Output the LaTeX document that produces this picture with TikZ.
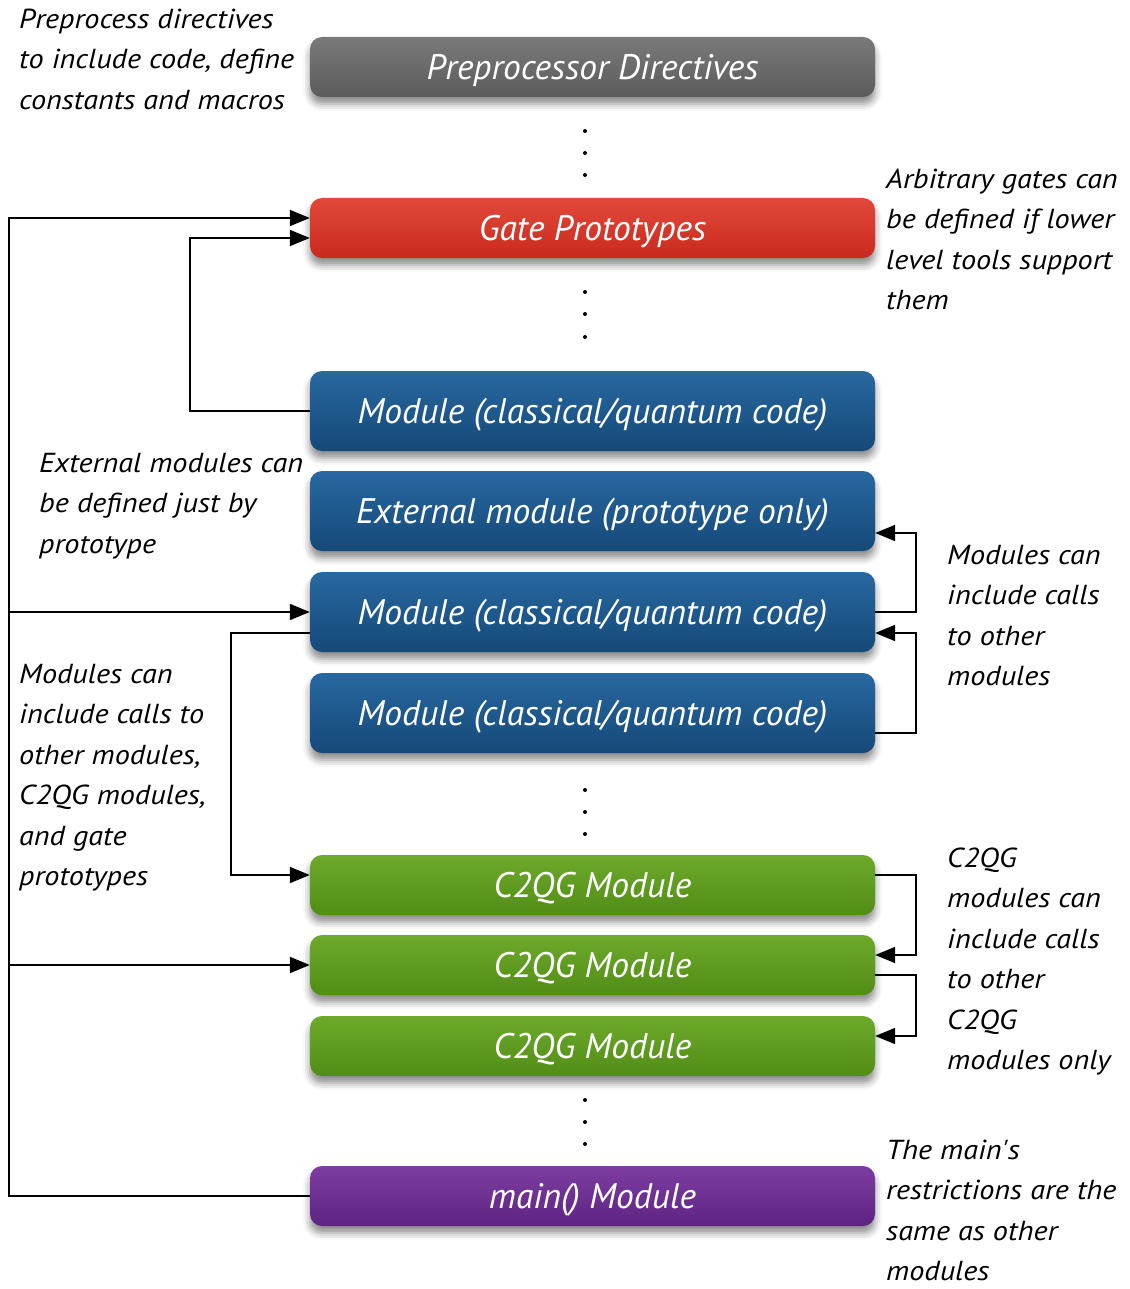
\documentclass[tikz,border=0pt]{standalone}
\usepackage{fontspec}
\setmainfont{PT Sans}
\newfontfamily\sidefont[FakeStretch=1.1]{PT Sans}
\newfontfamily\boxfont{PT Sans}
\usetikzlibrary{shadows.blur,arrows.meta,calc}
\definecolor{gtop}{HTML}{7A7A7A}\definecolor{gbot}{HTML}{5C5C5C}
\definecolor{rtop}{HTML}{E2493A}\definecolor{rbot}{HTML}{C92A1E}
\definecolor{btop}{HTML}{2868A0}\definecolor{bbot}{HTML}{154979}
\definecolor{ctop}{HTML}{6DAA2B}\definecolor{cbot}{HTML}{528C16}
\definecolor{ptop}{HTML}{7D3DA0}\definecolor{pbot}{HTML}{5E2482}
\begin{document}
\begin{tikzpicture}[x=1pt,y=-1pt,
  box/.style={rounded corners=12pt, minimum width=565pt, inner sep=0pt,
    text=white, font={\boxfont\itshape\fontsize{35.5}{40}\selectfont},
    text height=24.5pt, text depth=0pt,
    blur shadow={shadow xshift=0pt, shadow yshift=-7pt, shadow blur radius=7pt, shadow opacity=45}},
  tall/.style={box, minimum height=80pt},
  short/.style={box, minimum height=60pt},
  gray/.style={top color=gtop, bottom color=gbot},
  red/.style={top color=rtop, bottom color=rbot},
  blue/.style={top color=btop, bottom color=bbot},
  green/.style={top color=ctop, bottom color=cbot},
  purple/.style={top color=ptop, bottom color=pbot},
  side/.style={anchor=north west, inner sep=0pt, align=left,
    font={\sidefont\itshape\fontsize{27.5}{40.5}\selectfont}},
  arr/.style={line width=2pt, -{Triangle[length=20pt,width=16pt]}},
  dot/.style={circle, fill=black, inner sep=0pt, minimum size=4pt}]
\useasboundingbox (0,0) rectangle (1129,1289);

\node[short,gray] (pre) at (592.5,67) {Preprocessor Directives};
\node[short,red] (gate) at (592.5,228) {Gate Prototypes};
\node[tall,blue] (mod1) at (592.5,411) {Module (classical/quantum code)};
\node[tall,blue] (ext) at (592.5,511) {External module (prototype only)};
\node[tall,blue] (mod2) at (592.5,612) {Module (classical/quantum code)};
\node[tall,blue] (mod3) at (592.5,713) {Module (classical/quantum code)};
\node[short,green] (cq1) at (592.5,885) {C2QG Module};
\node[short,green] (cq2) at (592.5,965) {C2QG Module};
\node[short,green] (cq3) at (592.5,1046) {C2QG Module};
\node[short,purple] (main) at (592.5,1196) {main() Module};

\foreach \y [count=\i] in {131,153,175,292,314,337,790,812,834,1100,1122,1144}
  \node[dot] (d\i) at (585,\y) {};

\node[side] (t1) at (19,-0.3) {\strut Preprocess directives\\to include code, define\\constants and macros};
\node[side] (t2) at (886,159.7) {\strut Arbitrary gates can\\be defined if lower\\level tools support\\them};
\node[side] (t3) at (39,443.7) {\strut External modules can\\be defined just by\\prototype};
\node[side] (t4) at (947,535.7) {\strut Modules can\\include calls\\to other\\modules};
\node[side] (t5) at (19,654.7) {\strut Modules can\\include calls to\\other modules,\\C2QG modules,\\and gate\\prototypes};
\node[side] (t6) at (947,838.7) {\strut C2QG\\modules can\\include calls\\to other\\C2QG\\modules only};
\node[side] (t7) at (886,1130.7) {\strut The main's\\restrictions are the\\same as other\\modules};

\coordinate (L) at (9,0);
\coordinate (L2) at (190,0);
\coordinate (L3) at (231,0);
\coordinate (R) at (916,0);

\draw[arr] (main.west) -- (main.west -| L) -- ([yshift=10pt]gate.west -| L) -- ([yshift=10pt]gate.west);
\draw[arr] (mod2.west -| L) -- (mod2.west);
\draw[arr] (cq2.west -| L) -- (cq2.west);
\draw[arr] (mod1.west) -- (mod1.west -| L2) -- ([yshift=-10pt]gate.west -| L2) -- ([yshift=-10pt]gate.west);
\draw[arr] ([yshift=-21pt]mod2.west) -- ([yshift=-21pt]mod2.west -| L3) -- ([yshift=10pt]cq1.west -| L3) -- ([yshift=10pt]cq1.west);

\draw[arr] (mod2.east) -- (mod2.east -| R) -- ([yshift=-22pt]ext.east -| R) -- ([yshift=-22pt]ext.east);
\draw[arr] ([yshift=-20pt]mod3.east) -- ([yshift=-20pt]mod3.east -| R) -- ([yshift=-21pt]mod2.east -| R) -- ([yshift=-21pt]mod2.east);
\draw[arr] ([yshift=10pt]cq1.east) -- ([yshift=10pt]cq1.east -| R) -- ([yshift=10pt]cq2.east -| R) -- ([yshift=10pt]cq2.east);
\draw[arr] ([yshift=-10pt]cq2.east) -- ([yshift=-10pt]cq2.east -| R) -- ([yshift=10pt]cq3.east -| R) -- ([yshift=10pt]cq3.east);
\end{tikzpicture}
\end{document}
